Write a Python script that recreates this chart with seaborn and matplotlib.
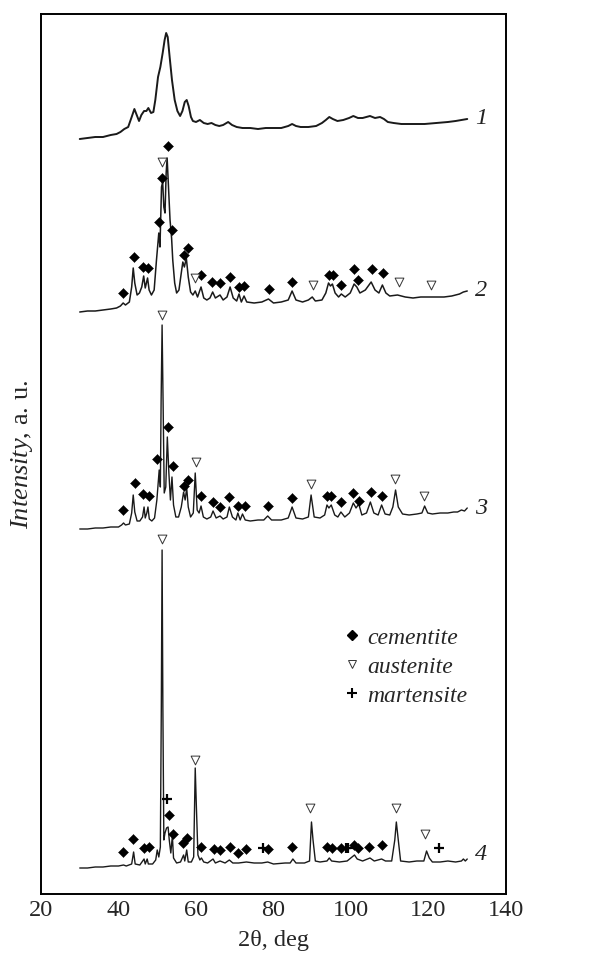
import matplotlib
matplotlib.use("Agg")
import matplotlib.pyplot as plt
import seaborn as sns
import pandas as pd
from matplotlib.lines import Line2D

# ---------------- data (2theta in deg, intensity in a.u., patterns stacked) ----------------
tth1 = [30, 32, 34, 36, 38, 39.5, 40.5, 41.5, 42.5, 43.4, 44.1, 44.7, 45.3, 45.9, 46.6, 47.2, 47.7,
        48.4, 49.0, 49.5, 50.2, 50.8, 51.4, 51.9, 52.3, 52.7, 53.2, 53.8, 54.5, 55.2, 55.9, 56.5,
        57.1, 57.6, 58.1, 58.7, 59.2, 60.0, 61.0, 62.0, 63.0, 64.0, 65.0, 66.0, 67.0, 68.3, 69.3,
        70.5, 72, 74, 76, 78, 80, 82, 83.8, 84.8, 85.8, 87, 89, 91, 92.5, 93.5, 94.4, 95.3, 96.5,
        98, 99.5, 100.6, 101.8, 103, 104.9, 106.2, 107.5, 108.5, 109.5, 111, 113, 116, 119, 122,
        125, 127, 128.5, 130]
int1 = [755, 756, 757, 757, 759, 760, 762, 765, 767, 777, 785, 779, 773, 779, 783, 783, 786,
        781, 782, 794, 817, 827, 841, 854, 861, 857, 837, 814, 794, 783, 778, 783,
        792, 794, 788, 777, 773, 772, 774, 771, 770, 771, 769, 768, 769, 772, 769,
        767, 766, 766, 765, 766, 766, 766, 768, 770, 768, 767, 767, 768, 771, 774, 777, 775, 773,
        774, 776, 778, 776, 776, 778, 776, 777, 775, 772, 771, 770, 770, 770, 771,
        772, 773, 774, 775]

tth2 = [30, 32, 34, 36, 38, 39.5, 40.5, 41.2, 41.8, 42.8, 43.4, 43.8, 44.2, 44.8, 45.4, 46.0, 46.5,
        46.9, 47.2, 47.5, 47.9, 48.5, 49.2, 49.8, 50.4, 50.7, 51.1, 51.4, 51.7, 52.0, 52.3, 52.55,
        52.9, 53.3, 53.7, 54.0, 54.5, 55.0, 55.6, 56.2, 56.6, 57.0, 57.5, 58.0, 58.6, 59.2, 59.8,
        60.4, 61.3, 62.0, 62.8, 63.6, 64.3, 65.0, 66.2, 67.0, 68.0, 68.8, 69.6, 70.5, 71.1, 71.7,
        72.4, 73.1, 75, 77, 78.7, 80, 82, 83.8, 84.8, 85.8, 87.5, 89.0, 90.0, 90.8, 92.5, 93.5,
        94.2, 94.7, 95.2, 95.9, 96.8, 97.5, 98.5, 99.8, 100.8, 101.5, 102.3, 103.7, 105.2, 106.2,
        107.2, 108.1, 109.0, 110, 112, 114, 116, 118, 120, 122, 124, 126, 128, 129, 130]
int2 = [582, 583, 583, 584, 585, 586, 588, 591, 589, 592, 607, 626, 611, 599, 601, 607, 618,
        606, 611, 616, 604, 599, 604, 634, 661, 647, 707, 712, 687, 681, 721, 736,
        707, 674, 656, 634, 611, 601, 604, 621, 632, 627, 636, 617, 602, 599, 603,
        597, 607, 596, 594, 596, 602, 596, 599, 594, 597, 607, 596, 593, 600, 592,
        598, 592, 591, 592, 595, 591, 592, 594, 603, 594, 592, 594, 597, 593, 594, 601,
        611, 608, 610, 601, 597, 600, 597, 601, 610, 607, 601, 604, 612, 604,
        601, 609, 601, 598, 599, 597, 596, 597, 597, 597, 597, 598, 600, 602, 603]

tth3 = [30, 32, 34, 36, 38, 40, 40.8, 41.3, 41.8, 42.8, 43.4, 43.8, 44.2, 44.8, 45.5, 46.2, 46.6,
        46.9, 47.3, 47.6, 47.95, 48.6, 49.3, 49.9, 50.5, 50.8, 51.0, 51.25, 51.5, 51.8, 52.2, 52.6,
        53.0, 53.4, 53.8, 54.2, 54.8, 55.5, 56.2, 56.8, 57.2, 57.6, 58.0, 58.6, 59.3, 59.8, 60.3,
        60.8, 61.3, 61.9, 62.8, 63.8, 64.4, 65.2, 66.2, 67.0, 68.0, 68.6, 69.4, 70.3, 70.8, 71.4,
        72.0, 72.7, 74, 76, 77.5, 78.5, 79.5, 82, 83.8, 84.8, 85.8, 87.5, 89.0, 89.7, 90.5, 92.0,
        93.2, 93.8, 94.3, 94.9, 95.8, 96.6, 97.4, 98.4, 99.6, 100.6, 101.3, 102.0, 102.8, 104.0,
        105.0, 105.9, 107.0, 107.9, 108.8, 110.0, 110.8, 111.5, 112.2, 113.3, 115, 117, 118.3,
        119.0, 119.8, 121, 123, 125, 126.5, 127.5, 128.5, 129.3, 130]
int3 = [365, 365, 366, 366, 367, 367, 369, 371, 369, 370, 381, 399, 382, 373, 373, 377, 387,
        376, 381, 387, 375, 373, 376, 394, 424, 407, 494, 569, 494, 401, 407, 457,
        421, 394, 417, 389, 377, 377, 387, 402, 394, 406, 387, 377, 381, 421, 384,
        381, 388, 377, 375, 377, 383, 376, 378, 375, 377, 387, 377, 374, 381, 374,
        380, 374, 373, 374, 374, 378, 374, 374, 376, 387, 376, 375, 377, 399, 377, 376,
        379, 389, 386, 389, 379, 377, 382, 377, 381, 391, 386, 390, 379, 381,
        392, 381, 379, 389, 380, 379, 387, 404, 387, 380, 379, 380, 381,
        388, 381, 380, 381, 381, 382, 382, 384, 383, 386]

tth4 = [30, 32, 34, 36, 38, 40, 41.3, 42, 43.4, 43.9, 44.3, 45.5, 46.6, 46.9, 47.4, 47.7, 48.8,
        49.6, 50.0, 50.4, 50.8, 51.05, 51.25, 51.45, 51.7, 52.0, 52.4, 52.8, 53.1, 53.5, 53.9,
        54.2, 55.0, 56.0, 56.8, 57.1, 57.6, 58.0, 58.8, 59.4, 59.8, 60.1, 60.5, 61.0, 61.4, 62,
        63, 64.4, 65, 66.2, 67.5, 68.6, 69.5, 71, 73, 75, 77, 78.5, 80, 83, 84.3, 85.0, 85.8, 88,
        89.3, 89.8, 90.2, 90.8, 92, 93.8, 94.4, 95, 97, 99, 100.9, 101.6, 103, 104.9, 106, 107.9,
        108.9, 110.5, 111.3, 111.7, 112.2, 112.8, 115, 117, 118.8, 119.5, 120.2, 121, 123, 125,
        127, 128.5, 129, 129.5, 130]
int4 = [26, 26, 27, 27, 28, 28, 29, 28, 30, 42, 30, 29, 35, 30, 35, 30, 30,
        34, 44, 37, 47, 187, 344, 187, 54, 61, 66, 67, 54, 41, 58,
        36, 31, 32, 39, 33, 44, 32, 32, 37, 126, 87, 39, 34, 36, 32,
        31, 35, 31, 33, 31, 34, 31, 31, 32, 31, 31, 32, 30, 31, 31, 35, 31, 31,
        33, 72, 54, 33, 32, 33, 36, 33, 32, 33, 39, 35, 33, 36, 33, 35,
        33, 33, 54, 72, 54, 33, 32, 33, 33, 43, 36, 32, 32, 33,
        32, 33, 35, 33, 35]

# phase markers: (2theta, marker height)
cem_x = [41.25, 44.1, 46.4, 47.5, 50.4, 51.2, 52.9, 53.7, 57.0, 58.0, 61.3, 64.1, 66.2, 68.9,
         71.1, 72.5, 78.9, 84.7, 94.2, 95.4, 97.3, 100.9, 101.7, 105.5, 108.3,
         41.25, 44.3, 46.4, 47.8, 50.0, 52.9, 54.0, 57.0, 58.0, 61.3, 64.3, 66.2, 68.4, 70.8,
         72.6, 78.5, 84.7, 93.7, 94.8, 97.3, 100.4, 102.0, 105.1, 107.9,
         41.25, 43.8, 46.6, 47.9, 53.1, 54.0, 56.7, 57.6, 61.4, 64.6, 66.2, 68.7, 70.8, 73.0,
         78.5, 84.9, 93.7, 95.0, 97.3, 100.9, 101.7, 104.7, 107.9]
cem_y = [601, 637, 627, 626, 672, 716, 748, 664, 639, 646, 619, 612, 611, 617,
         607, 608, 605, 612, 619, 619, 609, 625, 614, 625, 621,
         384, 411, 400, 398, 435, 467, 428, 408, 414, 398, 392, 387, 397, 388,
         388, 388, 396, 398, 398, 392, 401, 393, 402, 398,
         42, 55, 46, 47, 79, 60, 51, 56, 47, 45, 44, 47, 41, 45,
         45, 47, 47, 46, 46, 49, 46, 47, 49]
aus_x = [51.2, 59.7, 90.1, 112.4, 120.6,
         51.2, 59.9, 89.6, 111.4, 118.9,
         51.3, 59.7, 89.4, 111.5, 119.1]
aus_y = [732, 616, 609, 612, 609,
         579, 432, 410, 415, 398,
         355, 134, 86, 86, 60]
mar_x = [52.4, 77.2, 98.6, 99.3, 122.6]
mar_y = [95, 46, 46, 46, 46]

pattern_labels = ["1", "2", "3", "4"]
label_y = [776, 604, 386, 39]
label_x = 133.5

xticks = [20, 40, 60, 80, 100, 120, 140]
legend_labels = ["cementite", "austenite", "martensite"]

# ---------------- plotting ----------------
sns.set_style("white")
plt.rcParams["font.family"] = ["Liberation Serif", "DejaVu Serif"]
plt.rcParams["mathtext.fontset"] = "custom"
plt.rcParams["mathtext.rm"] = "Liberation Serif"
plt.rcParams["mathtext.it"] = "Liberation Serif:italic"

fig = plt.figure(figsize=(5.95, 9.58), dpi=100)
ax = fig.add_axes([41 / 595, 64 / 958, 465 / 595, 880 / 958])

curves = [(tth1, int1, 1.4), (tth2, int2, 1.1), (tth3, int3, 1.0), (tth4, int4, 1.0)]
for (xs, ys, lw) in curves:
    df = pd.DataFrame({"tth": xs, "I": ys})
    sns.lineplot(data=df, x="tth", y="I", color="#1a1a1a", lw=lw, ax=ax,
                 estimator=None, sort=False)

sns.scatterplot(x=cem_x, y=cem_y, marker="D", s=26, color="black", edgecolor="black",
                linewidth=0.3, ax=ax, zorder=5)
sns.scatterplot(x=aus_x, y=aus_y, marker="v", s=40, facecolor="white", edgecolor="#333333",
                linewidth=0.7, ax=ax, zorder=5)
sns.scatterplot(x=mar_x, y=mar_y, marker="+", s=50, color="black", linewidth=1.6,
                ax=ax, zorder=5)

for lab, ly in zip(pattern_labels, label_y):
    ax.text(label_x, ly, lab, fontsize=17.5, style="italic", ha="center", va="center",
            color="#222222")

handles = [
    Line2D([], [], ls="none", marker="D", ms=4.6, color="black"),
    Line2D([], [], ls="none", marker="v", ms=6, mfc="white", mec="#333333", mew=0.7),
    Line2D([], [], ls="none", marker="+", ms=7, color="black", mew=1.5),
]
ax.legend(handles, legend_labels, loc="upper left", bbox_to_anchor=(0.598, 0.3275),
          frameon=False, handlelength=1.0, handletextpad=0.15, labelspacing=0.32,
          prop={"family": "Liberation Serif", "style": "italic", "size": 17})

ax.set_xlim(20, 140)
ax.set_ylim(0, 880)
ax.set_xticks(xticks)
ax.set_yticks([])
ax.tick_params(axis="x", direction="in", length=5, width=1.0, labelsize=17.5, pad=4)
ax.set_xlabel("2θ, deg", fontsize=17.5, labelpad=7)
ax.set_ylabel(r"$\mathit{Intensity}$, a. u.", fontsize=19, labelpad=4)
for sp in ax.spines.values():
    sp.set_linewidth(1.4)
    sp.set_color("black")

fig.savefig("out.png", dpi=100)
